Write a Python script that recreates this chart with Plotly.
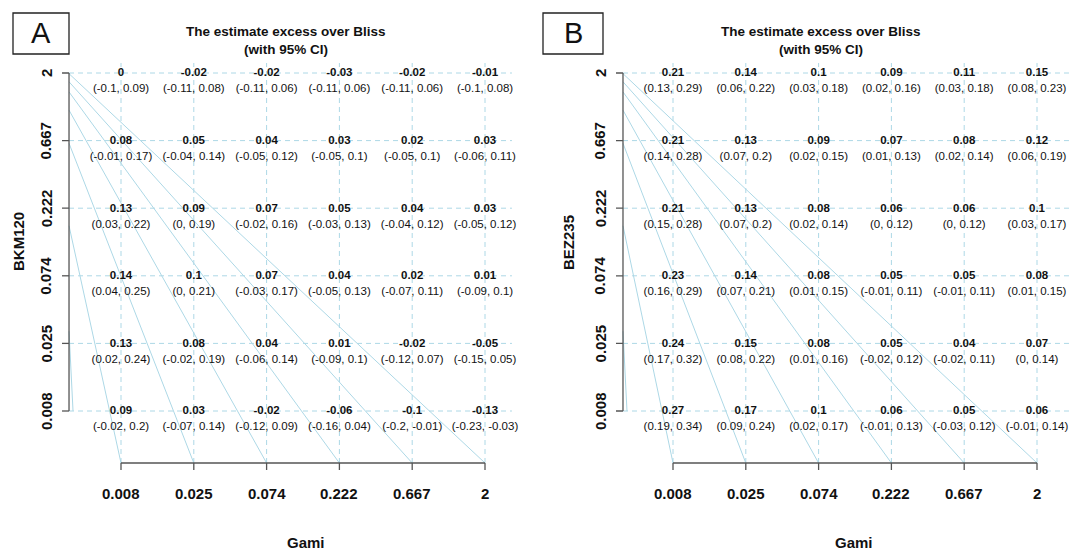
import plotly.graph_objects as go

# ---------------- data ----------------
gami_labels = ["0.008", "0.025", "0.074", "0.222", "0.667", "2"]
partner_labels = ["0.008", "0.025", "0.074", "0.222", "0.667", "2"]  # bottom -> top

# rows listed from bottom (0.008) to top (2); columns Gami 0.008 -> 2
bkm_est = [
    [0.09, 0.03, -0.02, -0.06, -0.1, -0.13],
    [0.13, 0.08, 0.04, 0.01, -0.02, -0.05],
    [0.14, 0.1, 0.07, 0.04, 0.02, 0.01],
    [0.13, 0.09, 0.07, 0.05, 0.04, 0.03],
    [0.08, 0.05, 0.04, 0.03, 0.02, 0.03],
    [0, -0.02, -0.02, -0.03, -0.02, -0.01],
]
bkm_lo = [
    [-0.02, -0.07, -0.12, -0.16, -0.2, -0.23],
    [0.02, -0.02, -0.06, -0.09, -0.12, -0.15],
    [0.04, 0, -0.03, -0.05, -0.07, -0.09],
    [0.03, 0, -0.02, -0.03, -0.04, -0.05],
    [-0.01, -0.04, -0.05, -0.05, -0.05, -0.06],
    [-0.1, -0.11, -0.11, -0.11, -0.11, -0.1],
]
bkm_hi = [
    [0.2, 0.14, 0.09, 0.04, -0.01, -0.03],
    [0.24, 0.19, 0.14, 0.1, 0.07, 0.05],
    [0.25, 0.21, 0.17, 0.13, 0.11, 0.1],
    [0.22, 0.19, 0.16, 0.13, 0.12, 0.12],
    [0.17, 0.14, 0.12, 0.1, 0.1, 0.11],
    [0.09, 0.08, 0.06, 0.06, 0.06, 0.08],
]

bez_est = [
    [0.27, 0.17, 0.1, 0.06, 0.05, 0.06],
    [0.24, 0.15, 0.08, 0.05, 0.04, 0.07],
    [0.23, 0.14, 0.08, 0.05, 0.05, 0.08],
    [0.21, 0.13, 0.08, 0.06, 0.06, 0.1],
    [0.21, 0.13, 0.09, 0.07, 0.08, 0.12],
    [0.21, 0.14, 0.1, 0.09, 0.11, 0.15],
]
bez_lo = [
    [0.19, 0.09, 0.02, -0.01, -0.03, -0.01],
    [0.17, 0.08, 0.01, -0.02, -0.02, 0],
    [0.16, 0.07, 0.01, -0.01, -0.01, 0.01],
    [0.15, 0.07, 0.02, 0, 0, 0.03],
    [0.14, 0.07, 0.02, 0.01, 0.02, 0.06],
    [0.13, 0.06, 0.03, 0.02, 0.03, 0.08],
]
bez_hi = [
    [0.34, 0.24, 0.17, 0.13, 0.12, 0.14],
    [0.32, 0.22, 0.16, 0.12, 0.11, 0.14],
    [0.29, 0.21, 0.15, 0.11, 0.11, 0.15],
    [0.28, 0.2, 0.14, 0.12, 0.12, 0.17],
    [0.28, 0.2, 0.15, 0.13, 0.14, 0.19],
    [0.29, 0.22, 0.18, 0.16, 0.18, 0.23],
]

# light-blue guide lines: each runs from the left axis (height in partner-index units)
# down to the bottom axis at the Gami index position
guide_left_y = [3.74, 4.96, 5.45, 5.72, 5.87, 5.99]
guide_bottom_x = [1, 2, 3, 4, 5, 6]
# short near-vertical guide by the left axis (offset from axis, partner index)
edge_guide_dx = [0.0, 0.055]
edge_guide_y = [2.18, 1.0]

panels = [
    dict(est=bkm_est, lo=bkm_lo, hi=bkm_hi, ylab="BKM120", letter="A"),
    dict(est=bez_est, lo=bez_lo, hi=bez_hi, ylab="BEZ235", letter="B"),
]

# ---------------- layout constants (pixels / index units) ----------------
W, H = 1077, 560
PX_X1 = [113, 665]   # pixel of Gami index 1 in each panel
DX = 72.8            # pixels per index step (x)
PX_Y1 = 403          # pixel of partner index 1
DY = 67.6            # pixels per index step (y)
X_LEFT = [0.286, 0.313]
X_RIGHT = [6.37, 6.70]
Y_BOTTOM = 1 - (455 - PX_Y1) / DY
Y_TOP = 6 + 10 / DY
TICK_X = 7 / DX
TICK_Y = 7 / DY
YLAB_OFF = [51, 55]
TITLE_X = [3.27, 3.03]
GAMI_X = [3.54, 3.49]
BOX_PX = [(5, 61), (535, 595)]
BOX_Y = (5, 46)

FONT = "Liberation Sans, Arial, Helvetica, sans-serif"
GRID_C = "#add8e6"
AXIS_C = "#555555"
TXT_C = "#111111"


def fmt(v):
    return f"{v:g}"


fig = go.Figure()
annotations = []
shapes = []

for p, pan in enumerate(panels):
    xa = "x" if p == 0 else "x2"
    ya = "y" if p == 0 else "y2"
    n = len(gami_labels)
    idx = list(range(1, n + 1))
    xl = X_LEFT[p]

    # dashed grid
    gx, gy = [], []
    for j in idx:
        gx += [xl, X_RIGHT[p], None]
        gy += [j, j, None]
    for i in idx:
        gx += [i, i, None]
        gy += [Y_BOTTOM, Y_TOP, None]
    fig.add_trace(go.Scatter(x=gx, y=gy, mode="lines", xaxis=xa, yaxis=ya,
                             line=dict(color=GRID_C, width=1, dash="5px,4px"),
                             hoverinfo="skip", showlegend=False))

    # diagonal guide lines
    lx, ly = [], []
    for gxb, gyl in zip(guide_bottom_x, guide_left_y):
        lx += [xl, gxb, None]
        ly += [gyl, Y_BOTTOM, None]
    lx += [xl + d for d in edge_guide_dx] + [None]
    ly += edge_guide_y + [None]
    fig.add_trace(go.Scatter(x=lx, y=ly, mode="lines", xaxis=xa, yaxis=ya,
                             line=dict(color=GRID_C, width=1),
                             hoverinfo="skip", showlegend=False))

    # axes lines + ticks
    ax_x, ax_y = [], []
    ax_x += [1, n, None]
    ax_y += [Y_BOTTOM, Y_BOTTOM, None]
    for i in idx:
        ax_x += [i, i, None]
        ax_y += [Y_BOTTOM, Y_BOTTOM - TICK_Y, None]
    ax_x += [xl, xl, None]
    ax_y += [1, n, None]
    for j in idx:
        ax_x += [xl, xl - TICK_X, None]
        ax_y += [j, j, None]
    fig.add_trace(go.Scatter(x=ax_x, y=ax_y, mode="lines", xaxis=xa, yaxis=ya,
                             line=dict(color=AXIS_C, width=1.3),
                             hoverinfo="skip", showlegend=False, cliponaxis=False))

    # cell texts
    tx, ty, t_est, t_ci = [], [], [], []
    for r in range(n):
        for c in range(n):
            tx.append(c + 1)
            ty.append(r + 1)
            t_est.append("<b>" + fmt(pan["est"][r][c]) + "</b>")
            t_ci.append(f"({fmt(pan['lo'][r][c])}, {fmt(pan['hi'][r][c])})")
    fig.add_trace(go.Scatter(x=tx, y=[v - 0.5 / DY for v in ty], text=t_est, mode="text",
                             xaxis=xa, yaxis=ya, cliponaxis=False,
                             textfont=dict(family=FONT, size=11.5, color=TXT_C),
                             hoverinfo="skip", showlegend=False))
    fig.add_trace(go.Scatter(x=tx, y=[v - 16.5 / DY for v in ty], text=t_ci, mode="text",
                             xaxis=xa, yaxis=ya, cliponaxis=False,
                             textfont=dict(family=FONT, size=11.5, color=TXT_C),
                             hoverinfo="skip", showlegend=False))

    # tick labels
    for i, lab in zip(idx, gami_labels):
        annotations.append(dict(x=i, y=Y_BOTTOM - 30 / DY, xref=xa, yref=ya, text="<b>" + lab + "</b>",
                                showarrow=False, xanchor="center", yanchor="middle",
                                font=dict(family=FONT, size=15, color=TXT_C)))
    for j, lab in zip(idx, partner_labels):
        annotations.append(dict(x=xl - 23 / DX, y=j, xref=xa, yref=ya, text="<b>" + lab + "</b>",
                                showarrow=False, xanchor="center", yanchor="middle", textangle=-90,
                                font=dict(family=FONT, size=15, color=TXT_C)))

    # axis titles
    annotations.append(dict(x=GAMI_X[p], y=Y_BOTTOM - 79 / DY, xref=xa, yref=ya, text="<b>Gami</b>",
                            showarrow=False, xanchor="center", yanchor="middle",
                            font=dict(family=FONT, size=15, color=TXT_C)))
    annotations.append(dict(x=xl - YLAB_OFF[p] / DX, y=(1 + n) / 2, xref=xa, yref=ya,
                            text="<b>" + pan["ylab"] + "</b>", showarrow=False,
                            xanchor="center", yanchor="middle", textangle=-90,
                            font=dict(family=FONT, size=15, color=TXT_C)))
    # titles
    annotations.append(dict(x=TITLE_X[p], y=n + 42 / DY, xref=xa, yref=ya,
                            text="<b>The estimate excess over Bliss</b>", showarrow=False,
                            xanchor="center", yanchor="middle",
                            font=dict(family=FONT, size=13.5, color=TXT_C)))
    annotations.append(dict(x=TITLE_X[p], y=n + 24 / DY, xref=xa, yref=ya,
                            text="<b>(with 95% CI)</b>", showarrow=False,
                            xanchor="center", yanchor="middle",
                            font=dict(family=FONT, size=13.5, color=TXT_C)))

# panel letter boxes (paper coords from pixels)
for (x0, x1), pan in zip(BOX_PX, panels):
    shapes.append(dict(type="rect", xref="paper", yref="paper",
                       x0=x0 / W, x1=x1 / W, y0=1 - BOX_Y[1] / H, y1=1 - BOX_Y[0] / H,
                       line=dict(color="#222222", width=1.3)))
    annotations.append(dict(x=(x0 + x1) / 2 / W, y=1 - (BOX_Y[0] + BOX_Y[1]) / 2 / H,
                            xref="paper", yref="paper",
                            text=pan["letter"], showarrow=False, xanchor="center", yanchor="middle",
                            font=dict(family=FONT, size=29, color=TXT_C)))


def rng_x(px1, d0, d1):
    return [1 + (d0 * W - px1) / DX, 1 + (d1 * W - px1) / DX]


y_range = [1 - (H - PX_Y1) / DY, 1 + PX_Y1 / DY]
ax_common = dict(visible=False, showgrid=False, zeroline=False, fixedrange=True)

fig.update_layout(
    width=W, height=H, autosize=False,
    margin=dict(l=0, r=0, t=0, b=0),
    paper_bgcolor="white", plot_bgcolor="white",
    xaxis=dict(domain=[0, 0.5], range=rng_x(PX_X1[0], 0, 0.5), **ax_common),
    xaxis2=dict(domain=[0.5, 1], range=rng_x(PX_X1[1], 0.5, 1), **ax_common),
    yaxis=dict(domain=[0, 1], range=y_range, **ax_common),
    yaxis2=dict(domain=[0, 1], range=y_range, anchor="x2", **ax_common),
    annotations=annotations,
    shapes=shapes,
    showlegend=False,
)

fig.write_html("out.html")
